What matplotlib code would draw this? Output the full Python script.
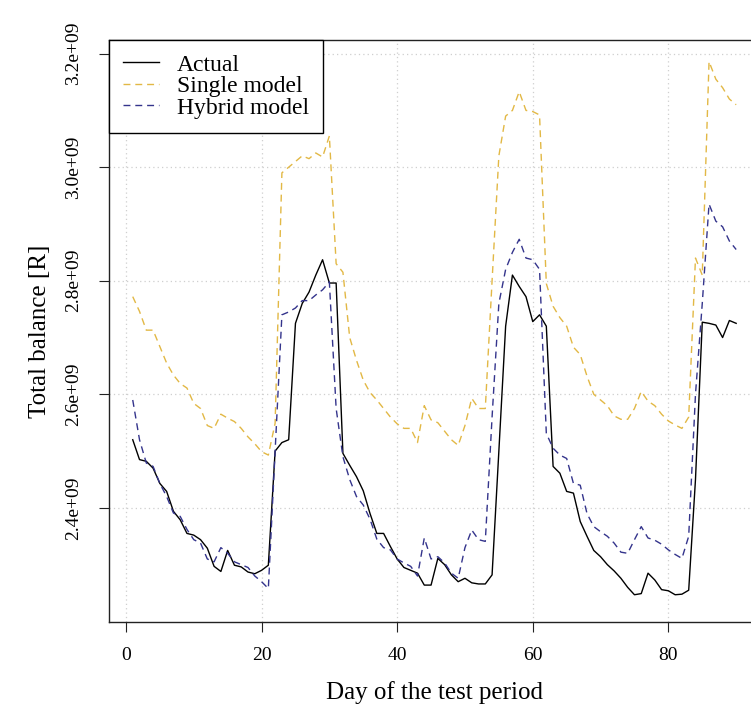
import matplotlib
matplotlib.use("Agg")
import matplotlib.pyplot as plt
import numpy as np

plt.rcParams['font.family'] = ['Liberation Serif', 'DejaVu Serif']

# Day of the test period
days = np.arange(1, 91)

# Total balance in units of 1e9
actual = [2.520, 2.485, 2.482, 2.470, 2.443, 2.429, 2.394, 2.379, 2.355, 2.352,
          2.344, 2.329, 2.297, 2.288, 2.325, 2.299, 2.296, 2.287, 2.284, 2.290,
          2.299, 2.500, 2.515, 2.520, 2.725, 2.760, 2.780, 2.810, 2.837, 2.796,
          2.796, 2.496, 2.475, 2.455, 2.430, 2.390, 2.355, 2.355, 2.332, 2.310,
          2.295, 2.290, 2.285, 2.264, 2.264, 2.311, 2.300, 2.282, 2.270, 2.276,
          2.268, 2.266, 2.266, 2.282, 2.500, 2.720, 2.810, 2.790, 2.772, 2.728,
          2.740, 2.720, 2.473, 2.461, 2.429, 2.426, 2.376, 2.350, 2.325, 2.314,
          2.300, 2.289, 2.276, 2.260, 2.247, 2.249, 2.285, 2.273, 2.256, 2.254,
          2.247, 2.248, 2.255, 2.450, 2.727, 2.725, 2.722, 2.700, 2.730, 2.725]

single = [2.772, 2.746, 2.713, 2.713, 2.684, 2.655, 2.634, 2.619, 2.611, 2.584,
          2.575, 2.545, 2.540, 2.565, 2.558, 2.552, 2.540, 2.525, 2.513, 2.499,
          2.493, 2.549, 2.990, 3.000, 3.010, 3.020, 3.015, 3.025, 3.018, 3.055,
          2.830, 2.815, 2.700, 2.660, 2.625, 2.603, 2.590, 2.575, 2.560, 2.548,
          2.540, 2.540, 2.515, 2.580, 2.555, 2.550, 2.535, 2.520, 2.510, 2.545,
          2.593, 2.575, 2.575, 2.800, 3.020, 3.090, 3.100, 3.133, 3.100, 3.098,
          3.092, 2.795, 2.755, 2.735, 2.720, 2.683, 2.670, 2.632, 2.600, 2.590,
          2.580, 2.562, 2.556, 2.556, 2.575, 2.605, 2.588, 2.580, 2.565, 2.553,
          2.546, 2.540, 2.560, 2.840, 2.810, 3.186, 3.155, 3.140, 3.120, 3.110]

hybrid = [2.590, 2.520, 2.479, 2.473, 2.443, 2.420, 2.391, 2.385, 2.362, 2.344,
          2.338, 2.310, 2.305, 2.330, 2.320, 2.305, 2.300, 2.295, 2.280, 2.270,
          2.258, 2.500, 2.740, 2.745, 2.752, 2.765, 2.765, 2.775, 2.784, 2.798,
          2.575, 2.490, 2.450, 2.420, 2.405, 2.380, 2.345, 2.330, 2.326, 2.310,
          2.303, 2.297, 2.280, 2.347, 2.310, 2.314, 2.303, 2.285, 2.276, 2.330,
          2.361, 2.344, 2.341, 2.560, 2.760, 2.820, 2.850, 2.873, 2.840, 2.837,
          2.820, 2.531, 2.505, 2.493, 2.487, 2.443, 2.440, 2.390, 2.367, 2.358,
          2.350, 2.338, 2.322, 2.320, 2.344, 2.367, 2.347, 2.343, 2.336, 2.326,
          2.318, 2.311, 2.350, 2.600, 2.760, 2.935, 2.905, 2.895, 2.870, 2.855]

xticks = [0, 20, 40, 60, 80]
yticks = [2.4e9, 2.6e9, 2.8e9, 3.0e9, 3.2e9]
ytick_labels = ["2.4e+09", "2.6e+09", "2.8e+09", "3.0e+09", "3.2e+09"]

W, H = 751, 718
fig = plt.figure(figsize=(W / 100, H / 100), dpi=100)
# plot region runs past the right edge of the image (cropped like the original)
ax = fig.add_axes([108.6 / W, 96 / H, (760.3 - 108.6) / W, (622 - 40) / H])

scale = 1e9
ax.plot(days, np.array(actual) * scale, color='black', lw=1.0, label='Actual')
ax.plot(days, np.array(single) * scale, color='#E2B845', lw=1.0,
        dashes=(5, 3.5), label='Single model')
ax.plot(days, np.array(hybrid) * scale, color='#34348C', lw=1.0,
        dashes=(5, 3.5), label='Hybrid model')

ax.set_xlim(-2.56, 93.56)
ax.set_ylim(2.199e9, 3.224e9)

ax.set_xticks(xticks)
ax.set_yticks(yticks)
ax.set_yticklabels(ytick_labels, rotation=90, va='center')
ax.tick_params(axis='both', direction='out', length=7, width=0.8,
               labelsize=14, colors='#222222')
ax.tick_params(axis='x', pad=11, labelcolor='black')
ax.tick_params(axis='y', pad=12, labelcolor='black')

ax.grid(True, color='#cfcfcf', linestyle=(0, (1, 2.5)), linewidth=0.9)
for s in ax.spines.values():
    s.set_linewidth(1.0)
    s.set_color('#222222')

ax.set_xlabel('Day of the test period', fontsize=18, labelpad=12)
ax.set_ylabel('Total balance [R]', fontsize=18, labelpad=10)

leg = ax.legend(loc='upper left', bbox_to_anchor=(0, 1), borderaxespad=0,
                fontsize=17, frameon=True, fancybox=False, framealpha=1,
                edgecolor='black', handlelength=1.55, handletextpad=0.75,
                labelspacing=0.0, borderpad=0.6)
leg.get_frame().set_linewidth(1.0)

fig.savefig('out.png', dpi=100)
